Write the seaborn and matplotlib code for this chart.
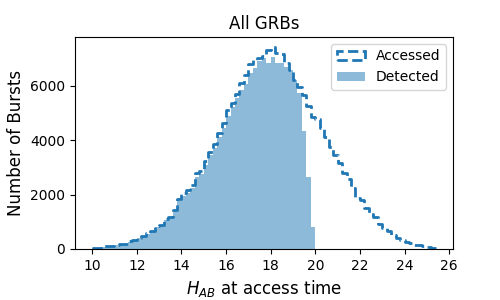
import numpy as np
import pandas as pd
import matplotlib
matplotlib.use("Agg")
import matplotlib.pyplot as plt
import seaborn as sns
from matplotlib.patches import Patch

# bin edges: 0.2 mag wide, from 10.0 to 25.4
bin_edges = [round(10.0 + 0.2 * i, 2) for i in range(78)]
bin_centers = [round(e + 0.1, 2) for e in bin_edges[:-1]]

# counts per bin
accessed = [50, 55, 100, 110, 120, 160, 170, 190, 290, 330,
            420, 470, 590, 660, 850, 880, 1110, 1180, 1420, 1850,
            2060, 2150, 2350, 2780, 2850, 3250, 3580, 3870, 4250, 4610,
            5100, 5350, 5710, 6100, 6400, 6780, 6950, 7000, 7100, 7300,
            7420, 7200, 7150, 6830, 6560, 6210, 5950, 5640, 5270, 4850,
            4770, 4430, 4100, 3750, 3450, 3150, 2800, 2560, 2250, 1890,
            1800, 1500, 1300, 1180, 900, 780, 650, 520, 420, 330,
            260, 210, 160, 135, 100, 60, 50]

detected = [45, 50, 90, 100, 115, 150, 160, 180, 270, 310,
            400, 450, 560, 630, 800, 840, 1050, 1130, 1360, 1750,
            1960, 2060, 2250, 2650, 2750, 3100, 3450, 3720, 4100, 4450,
            4900, 5200, 5550, 5850, 6050, 6450, 6650, 6900, 7000, 6830,
            7050, 6830, 6830, 6700, 6560, 6190, 5720, 4320, 2660, 800]

df_acc = pd.DataFrame({"mag": bin_centers, "count": accessed})
df_det = pd.DataFrame({"mag": bin_centers[:len(detected)], "count": detected})

fig, ax = plt.subplots(figsize=(5, 3), dpi=100)
fig.subplots_adjust(left=0.15, right=0.906, top=0.877, bottom=0.17)

sns.histplot(data=df_det, x="mag", weights="count", bins=bin_edges,
             element="bars", fill=True, alpha=0.5, linewidth=0,
             color="C0", ax=ax)
sns.histplot(data=df_acc, x="mag", weights="count", bins=bin_edges,
             element="step", fill=False, linestyle="--", linewidth=2,
             color="C0", ax=ax)

ax.set_xlim(9.23, 26.17)
ax.set_title("All GRBs", fontsize=12)
ax.set_xlabel(r"$H_{AB}$ at access time", fontsize=12)
ax.set_ylabel("Number of Bursts", fontsize=12)

handles = [Patch(facecolor="none", edgecolor="C0", linestyle="--", linewidth=2),
           Patch(facecolor="C0", alpha=0.5)]
ax.legend(handles, ["Accessed", "Detected"], loc="upper right")

fig.savefig("out.png", dpi=100)
